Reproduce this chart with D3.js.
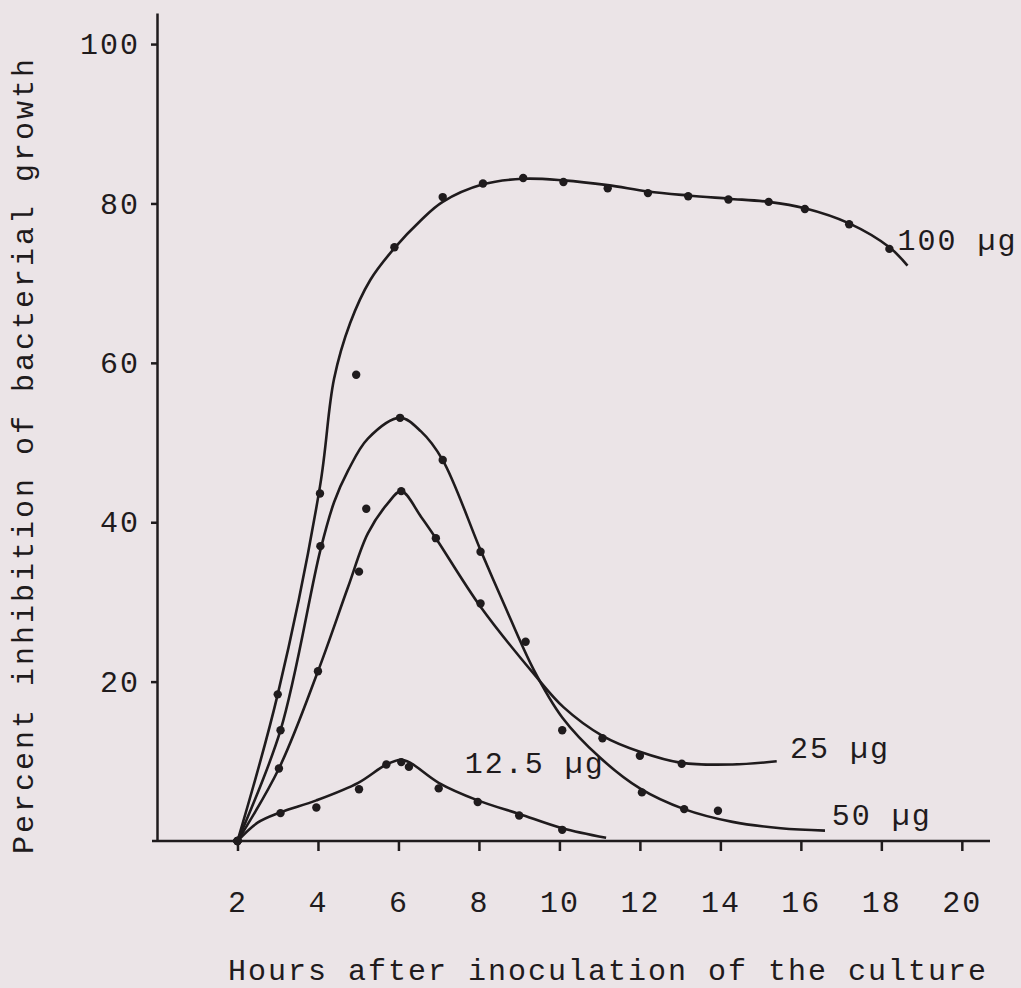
<!DOCTYPE html>
<html>
<head>
<meta charset="utf-8">
<script src="https://d3js.org/d3.v7.min.js"></script>
<style>
    body { margin: 0; background-color: #ebe4e7; }
    text { font-family: "Liberation Mono", "Courier New", monospace; fill: #1f1b1d; }
</style>
</head>
<body>
<div id="chart"></div>
<script>
// observed points (hours, percent inhibition)
var hours100 = [2, 3, 4.05, 4.95, 5.9, 7.1, 8.1, 9.1, 10.1, 11.2, 12.2, 13.2, 14.2, 15.2, 16.1, 17.2, 18.2];
var pct100 = [0, 18.4, 43.6, 58.5, 74.5, 80.8, 82.5, 83.2, 82.7, 81.9, 81.3, 80.9, 80.5, 80.2, 79.3, 77.4, 74.3];

var hours50 = [2, 3.07, 4.06, 5.2, 6.04, 7.1, 8.04, 9.16, 10.07, 12.05, 13.1, 13.94];
var pct50 = [0, 13.9, 37, 41.7, 53.1, 47.8, 36.3, 25.0, 13.9, 6.1, 4.0, 3.8];

var hours25 = [2, 3.03, 4.0, 5.02, 6.07, 6.93, 8.04, 11.07, 12.0, 13.04];
var pct25 = [0, 9.1, 21.3, 33.8, 43.9, 38.0, 29.8, 12.9, 10.7, 9.7];

var hours12 = [2, 3.07, 3.96, 5.02, 5.7, 6.07, 6.26, 7.0, 7.97, 9.0, 10.07];
var pct12 = [0, 3.5, 4.2, 6.5, 9.6, 9.9, 9.3, 6.6, 4.9, 3.2, 1.4];

// hand drawn curves
var curveHours100 = [2, 3, 4.05, 4.4, 4.8, 5.3, 5.9, 6.56, 7.1, 8.1, 9.1, 10.1, 11.2, 12.2, 13.2, 14.2, 15.2, 16.1, 17.2, 18.2, 18.65];
var curvePct100 = [0, 18.4, 44.5, 58, 65, 70.4, 74.4, 77.9, 80.2, 82.4, 83.1, 82.9, 82.3, 81.5, 81.0, 80.6, 80.2, 79.4, 77.5, 74.5, 72.2];

var curveHours50 = [2, 3.07, 4.06, 4.4, 4.75, 5.24, 6.04, 6.56, 7.1, 8.04, 8.6, 9.36, 10.07, 11, 12, 13.1, 14.3, 15.5, 16.6];
var curvePct50 = [0, 13.9, 36.5, 42.5, 46.5, 50.5, 53.1, 51.4, 47.8, 36.5, 30, 21.5, 15.5, 10.5, 6.6, 4.0, 2.4, 1.6, 1.3];

var curveHours25 = [2, 3.03, 4.0, 4.75, 5.24, 5.74, 6.07, 6.56, 6.93, 8.04, 9.36, 10.1, 11.07, 12.0, 13.04, 14.3, 15.4];
var curvePct25 = [0, 9.1, 21.3, 31.9, 38.6, 42.4, 43.9, 40.7, 38, 29.4, 21, 16.8, 13.2, 11.2, 9.8, 9.6, 10.0];

var curveHours12 = [2, 2.5, 3.07, 3.96, 5.0, 5.7, 6.07, 6.3, 7.0, 7.97, 9.0, 10.07, 11.16];
var curvePct12 = [0, 2.3, 3.6, 5.1, 7.3, 9.6, 10.2, 9.8, 7.3, 5.1, 3.4, 1.6, 0.4];

var xTicks = [2, 4, 6, 8, 10, 12, 14, 16, 18, 20];
var yTicks = [20, 40, 60, 80, 100];
var doseLabels = ["100 µg", "50 µg", "25 µg", "12.5 µg"];

const svgDimentions = {
    width: 1021,
    height: 988
};

var ink = "#1f1b1d";

var svg = d3.select("#chart").append("svg")
    .attr("width", svgDimentions.width)
    .attr("height", svgDimentions.height);

svg.append("rect")
    .attr("width", svgDimentions.width)
    .attr("height", svgDimentions.height)
    .attr("fill", "#ebe4e7");

var scaleX = d3.scaleLinear()
    .domain([0, 20.7])
    .range([157, 990]);

var scaleY = d3.scaleLinear()
    .domain([0, 103.9])
    .range([841, 13]);

var axisX = d3.axisBottom(scaleX)
    .tickValues(xTicks)
    .tickSize(10)
    .tickSizeOuter(0)
    .tickPadding(40);

var axisY = d3.axisLeft(scaleY)
    .tickValues(yTicks)
    .tickSize(6)
    .tickSizeOuter(0)
    .tickPadding(11);

var gx = svg.append("g")
    .attr("class", "x axis")
    .attr("transform", "translate(0," + scaleY(0) + ")")
    .call(axisX);

var gy = svg.append("g")
    .attr("class", "y axis")
    .attr("transform", "translate(" + scaleX(0) + ",0)")
    .call(axisY);

svg.selectAll(".axis path, .axis line")
    .attr("stroke", ink)
    .attr("stroke-width", 2.5);

svg.selectAll(".axis text")
    .attr("fill", ink)
    .style("font-size", "30px")
    .style("letter-spacing", "2px");

gx.select(".domain").attr("d", "M" + (scaleX(0) - 5) + ",0H" + scaleX(20.7));

function zip(hs, ps) {
    return hs.map(function (h, i) { return { h: h, p: ps[i] }; });
}

var series = [
    { points: zip(hours100, pct100), curve: zip(curveHours100, curvePct100) },
    { points: zip(hours50, pct50), curve: zip(curveHours50, curvePct50) },
    { points: zip(hours25, pct25), curve: zip(curveHours25, curvePct25) },
    { points: zip(hours12, pct12), curve: zip(curveHours12, curvePct12) }
];

var line = d3.line()
    .x(d => scaleX(d.h))
    .y(d => scaleY(d.p))
    .curve(d3.curveCatmullRom.alpha(0.5));

svg.selectAll(".curve")
    .data(series)
    .enter()
    .append("path")
    .attr("class", "curve")
    .attr("d", d => line(d.curve))
    .attr("fill", "none")
    .attr("stroke", ink)
    .attr("stroke-width", 2.6);

series.forEach(function (s) {
    svg.selectAll(null)
        .data(s.points)
        .enter()
        .append("circle")
        .attr("cx", d => scaleX(d.h))
        .attr("cy", d => scaleY(d.p))
        .attr("r", 4.2)
        .attr("fill", ink);
});

// dose labels next to the curves
var labelPos = [[18.4, 74.2], [16.77, 2.0], [15.73, 10.4], [7.65, 8.5]];

svg.selectAll(".dose")
    .data(doseLabels)
    .enter()
    .append("text")
    .attr("class", "dose")
    .attr("x", (d, i) => scaleX(labelPos[i][0]))
    .attr("y", (d, i) => scaleY(labelPos[i][1]))
    .style("font-size", "30px")
    .style("letter-spacing", "2px")
    .text(d => d);

svg.append("text")
    .attr("x", 608)
    .attr("y", 980)
    .attr("text-anchor", "middle")
    .style("font-size", "30px")
    .style("letter-spacing", "2px")
    .text("Hours after inoculation of the culture");

svg.append("text")
    .attr("transform", "translate(33,455) rotate(-90)")
    .attr("text-anchor", "middle")
    .style("font-size", "30px")
    .style("letter-spacing", "3px")
    .text("Percent inhibition of bacterial growth");
</script>
</body>
</html>
